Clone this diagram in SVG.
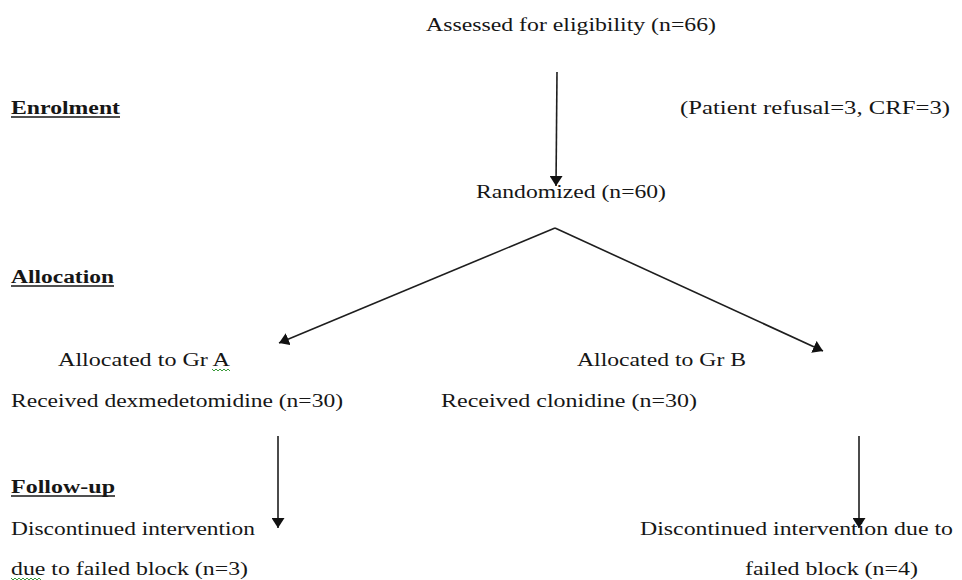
<svg xmlns="http://www.w3.org/2000/svg" width="962" height="580" viewBox="0 0 962 580">
<defs>
<style>
text{font-family:"Liberation Serif","DejaVu Serif",serif;font-size:18px;fill:#161616}
.b{font-weight:bold}
.ul{stroke:#161616;stroke-width:1.5}
.c{stroke:#1e1e1e;stroke-width:1.6;fill:none}
.sq{stroke:#3a9a3a;stroke-width:1;fill:none}
</style>
<marker id="ah" viewBox="0 0 10 13" refX="10" refY="6.5" markerWidth="10" markerHeight="13" markerUnits="userSpaceOnUse" orient="auto">
<path d="M0,0 L10,6.5 L0,13 z" fill="#111"/>
</marker>
</defs>
<rect width="962" height="580" fill="#fff"/>
<g font-family="Liberation Serif, serif">
<g id="headings">
<text class="b" x="11" y="114" textLength="109" lengthAdjust="spacingAndGlyphs">Enrolment</text>
<line class="ul" x1="11" y1="117" x2="120" y2="117"/>
<text class="b" x="11" y="283" textLength="103" lengthAdjust="spacingAndGlyphs">Allocation</text>
<line class="ul" x1="11" y1="286" x2="114" y2="286"/>
<text class="b" x="11" y="493" textLength="104" lengthAdjust="spacingAndGlyphs">Follow-up</text>
<line class="ul" x1="11" y1="496" x2="115" y2="496"/>
</g>
<g id="assessed"><text x="426" y="31" textLength="290" lengthAdjust="spacingAndGlyphs">Assessed for eligibility (n=66)</text></g>
<g id="excluded"><text x="680" y="114" textLength="270" lengthAdjust="spacingAndGlyphs">(Patient refusal=3, CRF=3)</text></g>
<g id="randomized"><text x="476" y="198" textLength="190" lengthAdjust="spacingAndGlyphs">Randomized (n=60)</text></g>
<g id="groupA">
<text x="58" y="366" textLength="172" lengthAdjust="spacingAndGlyphs">Allocated to Gr A</text>
<path class="sq" d="M212,369 l2,2 l2,-2 l2,2 l2,-2 l2,2 l2,-2 l2,2 l2,-2 l2,2"/>
<text x="11" y="407" textLength="332" lengthAdjust="spacingAndGlyphs">Received dexmedetomidine  (n=30)</text>
</g>
<g id="groupB">
<text x="577" y="366" textLength="169" lengthAdjust="spacingAndGlyphs">Allocated to Gr B</text>
<text x="441" y="407" textLength="256" lengthAdjust="spacingAndGlyphs">Received clonidine  (n=30)</text>
</g>
<g id="followA">
<text x="11" y="535" textLength="244" lengthAdjust="spacingAndGlyphs">Discontinued intervention</text>
<text x="11" y="575" textLength="237" lengthAdjust="spacingAndGlyphs">due to failed block (n=3)</text>
<path class="sq" d="M11,578 l2,2 l2,-2 l2,2 l2,-2 l2,2 l2,-2 l2,2 l2,-2 l2,2 l2,-2 l2,2 l2,-2 l2,2 l2,-2 l2,2"/>
</g>
<g id="followB">
<text x="640" y="535" textLength="313" lengthAdjust="spacingAndGlyphs">Discontinued intervention due to</text>
<text x="745" y="575" textLength="173" lengthAdjust="spacingAndGlyphs">failed block (n=4)</text>
</g>
</g>
<g id="connectors">
<line class="c" x1="557" y1="72" x2="556" y2="186" marker-end="url(#ah)"/>
<line class="c" x1="555" y1="228" x2="279" y2="343" marker-end="url(#ah)"/>
<line class="c" x1="555" y1="228" x2="823" y2="351" marker-end="url(#ah)"/>
<line class="c" x1="278" y1="436" x2="278" y2="528" marker-end="url(#ah)"/>
<line class="c" x1="859" y1="436" x2="859" y2="528" marker-end="url(#ah)"/>
</g>
</svg>
